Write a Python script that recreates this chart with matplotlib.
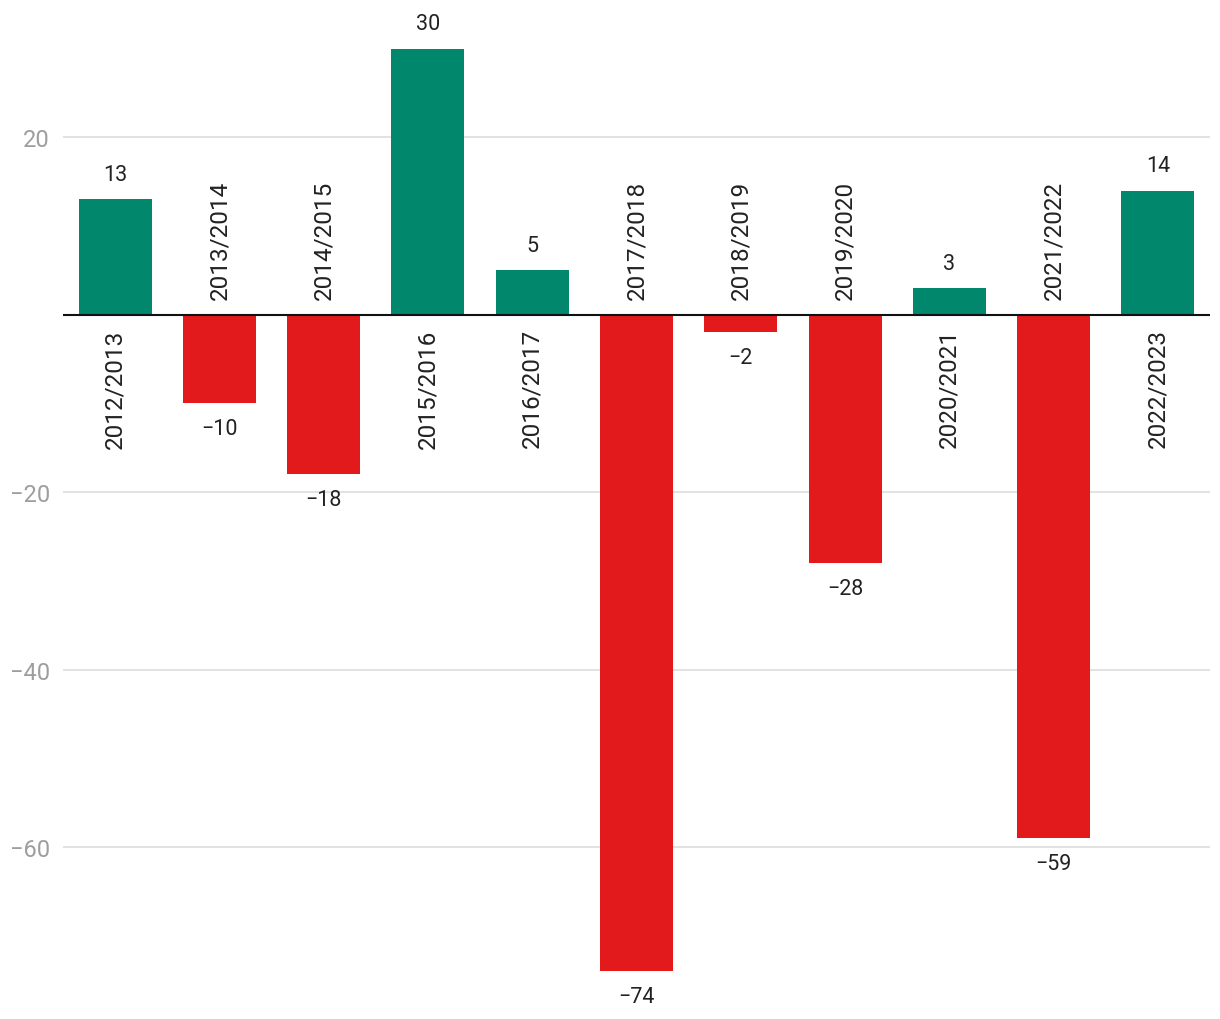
import matplotlib
matplotlib.use("Agg")
import matplotlib.pyplot as plt

plt.rcParams['font.family'] = ['Roboto', 'DejaVu Sans']

categories = ["2012/2013", "2013/2014", "2014/2015", "2015/2016", "2016/2017",
              "2017/2018", "2018/2019", "2019/2020", "2020/2021", "2021/2022", "2022/2023"]
values = [13, -10, -18, 30, 5, -74, -2, -28, 3, -59, 14]
yticks = [20, -20, -40, -60]
ytick_labels = ["20", "\u221220", "\u221240", "\u221260"]

GREEN = "#00876C"
RED = "#E31A1C"

fig = plt.figure(figsize=(12.2, 10.2), dpi=100)
ax = fig.add_axes([63 / 1220, 0, (1210 - 63) / 1220, 1])

x = list(range(len(values)))
colors = [GREEN if v >= 0 else RED for v in values]
ax.bar(x, values, width=0.70, color=colors, zorder=2)

ax.set_xlim(-0.5, len(values) - 0.5)
ax.set_ylim(-79.4, 35.6)

for s in ax.spines.values():
    s.set_visible(False)
ax.set_xticks([])
ax.set_yticks(yticks)
ax.set_yticklabels(ytick_labels)
ax.tick_params(axis='y', length=0, pad=9.5, labelsize=17, labelcolor="#9e9e9e")
ax.grid(axis='y', color="#dddddd", linewidth=1.2, zorder=0)
ax.axhline(0, color="#111111", linewidth=1.5, zorder=3)

for xi, v, cat in zip(x, values, categories):
    lbl = str(v) if v >= 0 else "\u2212" + str(abs(v))
    if v >= 0:
        ax.annotate(lbl, (xi, v), xytext=(0, 10.5), textcoords="offset points",
                    ha="center", va="bottom", fontsize=15.5, color="#222222")
        ax.annotate(cat, (xi, 0), xytext=(0, -9.8), textcoords="offset points",
                    ha="center", va="top", rotation=90, fontsize=17.5, color="#222222")
    else:
        ax.annotate(lbl, (xi, v), xytext=(0, -10.8), textcoords="offset points",
                    ha="center", va="top", fontsize=15.5, color="#222222")
        ax.annotate(cat, (xi, 0), xytext=(0, 11.5), textcoords="offset points",
                    ha="center", va="bottom", rotation=90, fontsize=17.5, color="#222222")

fig.savefig("out.png", dpi=100, facecolor="white")
